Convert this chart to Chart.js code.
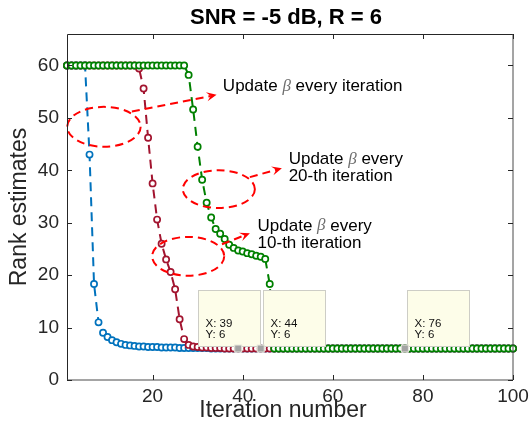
<!DOCTYPE html>
<html>
<head>
<meta charset="utf-8">
<script src="https://cdn.jsdelivr.net/npm/chart.js@4.4.1/dist/chart.umd.min.js"></script>
<style>
  html, body { margin: 0; padding: 0; background: #fff; }
  #wrap { width: 530px; height: 432px; }
</style>
</head>
<body>
<div id="wrap"><canvas id="rank-chart" width="530" height="432"></canvas></div>
<script>
// iteration index (x axis)
const iterations = [
    1, 2, 3, 4, 5, 6, 7, 8, 9, 10,
    11, 12, 13, 14, 15, 16, 17, 18, 19, 20,
    21, 22, 23, 24, 25, 26, 27, 28, 29, 30,
    31, 32, 33, 34, 35, 36, 37, 38, 39, 40,
    41, 42, 43, 44, 45, 46, 47, 48, 49, 50,
    51, 52, 53, 54, 55, 56, 57, 58, 59, 60,
    61, 62, 63, 64, 65, 66, 67, 68, 69, 70,
    71, 72, 73, 74, 75, 76, 77, 78, 79, 80,
    81, 82, 83, 84, 85, 86, 87, 88, 89, 90,
    91, 92, 93, 94, 95, 96, 97, 98, 99, 100
];

// beta updated every iteration (blue)
const rankEveryIter = [
    60, 60, 60, 60, 60, 43, 18.3, 11, 9, 8.2,
    7.6, 7.2, 6.9, 6.7, 6.6, 6.5, 6.4, 6.4, 6.3, 6.3,
    6.3, 6.2, 6.2, 6.2, 6.2, 6.1, 6.1, 6.1, 6.1, 6.1,
    6.1, 6.1, 6, 6, 6, 6, 6, 6, 6, 6,
    6, 6, 6, 6, 6, 6, 6, 6, 6, 6,
    6, 6, 6, 6, 6, 6, 6, 6, 6, 6,
    6, 6, 6, 6, 6, 6, 6, 6, 6, 6,
    6, 6, 6, 6, 6, 6, 6, 6, 6, 6,
    6, 6, 6, 6, 6, 6, 6, 6, 6, 6,
    6, 6, 6, 6, 6, 6, 6, 6, 6, 6
];

// beta updated every 10-th iteration (dark red)
const rankEvery10 = [
    60, 60, 60, 60, 60, 60, 60, 60, 60, 60,
    60, 60, 60, 60, 60, 60, 59.4, 55.6, 46.2, 37.5,
    30.6, 26, 23, 20.6, 17.3, 11.6, 7.8, 6.7, 6.4, 6.3,
    6.2, 6.2, 6.1, 6.1, 6.1, 6, 6, 6, 6, 6,
    6, 6, 6, 6, 6, 6, 6, 6, 6, 6,
    6, 6, 6, 6, 6, 6, 6, 6, 6, 6,
    6, 6, 6, 6, 6, 6, 6, 6, 6, 6,
    6, 6, 6, 6, 6, 6, 6, 6, 6, 6,
    6, 6, 6, 6, 6, 6, 6, 6, 6, 6,
    6, 6, 6, 6, 6, 6, 6, 6, 6, 6
];

// beta updated every 20-th iteration (green)
const rankEvery20 = [
    60, 60, 60, 60, 60, 60, 60, 60, 60, 60,
    60, 60, 60, 60, 60, 60, 60, 60, 60, 60,
    60, 60, 60, 60, 60, 60, 60, 58.2, 51.6, 44.5,
    38.2, 33.8, 31, 28.8, 27.9, 26.9, 25.8, 25.2, 24.7, 24.5,
    24.2, 24, 23.7, 23.5, 23.1, 18.3, 6, 6, 6, 6,
    6, 6, 6, 6, 6, 6, 6, 6, 6, 6,
    6, 6, 6, 6, 6, 6, 6, 6, 6, 6,
    6, 6, 6, 6, 6, 6, 6, 6, 6, 6,
    6, 6, 6, 6, 6, 6, 6, 6, 6, 6,
    6, 6, 6, 6, 6, 6, 6, 6, 6, 6
];

const xTicks = [20, 40, 60, 80, 100];
const yTicks = [0, 10, 20, 30, 40, 50, 60];

// data tips
const tipX = [39, 44, 76];
const tipY = [6, 6, 6];

const FONT = '"Liberation Sans", Arial, Helvetica, sans-serif';
const BLUE = '#0072BD', RED = '#A2142F', GREEN = '#008000';

function toPoints(values) {
    return iterations.map((it, i) => ({ x: it, y: values[i] }));
}

function series(label, values, color, order) {
    return {
        label: label,
        data: toPoints(values),
        borderColor: color,
        borderWidth: 2,
        borderDash: [9, 6],
        pointRadius: 3.1,
        pointBorderWidth: 1.7,
        pointBorderColor: color,
        pointBackgroundColor: '#fff',
        tension: 0,
        clip: false,
        order: order
    };
}

// annotations are given in data units and placed through the scales
const notes = [
    { ellipse: [9.2, 48.3, 8.15, 3.8], arrow: [15.4, 51.2, 34.2, 54.4],
      at: [35.6, 56.0], lines: [['Update ', 'β', ' every iteration']] },
    { ellipse: [34.7, 36.4, 8.0, 3.6], arrow: [41.6, 38.7, 48.7, 40.4],
      at: [50.2, 42.1], lines: [['Update ', 'β', ' every'], ['20-th iteration']] },
    { ellipse: [27.9, 23.6, 8.0, 3.7], arrow: [35.4, 25.9, 41.6, 28.0],
      at: [43.3, 29.4], lines: [['Update ', 'β', ' every'], ['10-th iteration']] }
];

function drawArrow(ctx, x0, y0, x1, y1) {
    const ang = Math.atan2(y1 - y0, x1 - x0);
    const c = Math.cos(ang), s = Math.sin(ang);
    const len = 10, half = 4.5;
    ctx.save();
    ctx.strokeStyle = '#ff0000';
    ctx.lineWidth = 2;
    ctx.setLineDash([8, 5]);
    ctx.beginPath();
    ctx.moveTo(x0, y0);
    ctx.lineTo(x1 - len * 0.6 * c, y1 - len * 0.6 * s);
    ctx.stroke();
    ctx.setLineDash([]);
    ctx.fillStyle = '#ff0000';
    ctx.beginPath();
    ctx.moveTo(x1, y1);
    ctx.lineTo(x1 - len * c + half * s, y1 - len * s - half * c);
    ctx.lineTo(x1 - len * 0.6 * c, y1 - len * 0.6 * s);
    ctx.lineTo(x1 - len * c - half * s, y1 - len * s + half * c);
    ctx.closePath();
    ctx.fill();
    ctx.restore();
}

function drawRichLine(ctx, x, y, parts) {
    let cx = x;
    parts.forEach(p => {
        if (p === 'β') {
            ctx.font = 'italic 17px "Liberation Serif", serif';
            ctx.fillStyle = '#6e6e6e';
        } else {
            ctx.font = '17px ' + FONT;
            ctx.fillStyle = '#000';
        }
        ctx.fillText(p, cx, y);
        cx += ctx.measureText(p).width;
    });
}

const decorations = {
    id: 'decorations',
    afterDatasetsDraw(chart) {
        const { ctx, chartArea: a } = chart;
        const xs = chart.scales.x, ys = chart.scales.y;
        const px = v => xs.getPixelForValue(v);
        const py = v => ys.getPixelForValue(v);

        // red dashed ellipses, arrows and notes
        notes.forEach(n => {
            const [ex, ey, erx, ery] = n.ellipse;
            ctx.save();
            ctx.strokeStyle = '#ff0000';
            ctx.lineWidth = 2;
            ctx.setLineDash([8, 5]);
            ctx.beginPath();
            ctx.ellipse(px(ex), py(ey), px(ex + erx) - px(ex), py(ey) - py(ey + ery), 0, 0, Math.PI * 2);
            ctx.stroke();
            ctx.restore();

            const [ax0, ay0, ax1, ay1] = n.arrow;
            drawArrow(ctx, px(ax0), py(ay0), px(ax1), py(ay1));

            ctx.save();
            ctx.textBaseline = 'middle';
            ctx.textAlign = 'left';
            n.lines.forEach((parts, i) => {
                drawRichLine(ctx, px(n.at[0]), py(n.at[1]) + i * 17.4, parts);
            });
            ctx.restore();
        });

        // data tips
        const shift = [-40, 2, 2];
        tipX.forEach((tx, i) => {
            const mx = px(tx), my = py(tipY[i]);
            const left = Math.round(mx + shift[i]) + 0.5;
            const top = Math.round(my - 58.5) + 0.5;
            ctx.save();
            ctx.fillStyle = '#fdfde9';
            ctx.strokeStyle = '#cdcdc6';
            ctx.lineWidth = 1;
            ctx.fillRect(left, top, 62, 56);
            ctx.strokeRect(left, top, 62, 56);
            ctx.fillStyle = '#a3a3a3';
            ctx.strokeStyle = '#e6e6da';
            ctx.fillRect(mx - 3.5, my - 3.5, 7, 7);
            ctx.strokeRect(mx - 3.5, my - 3.5, 7, 7);
            ctx.fillStyle = '#111';
            ctx.font = '11.5px ' + FONT;
            ctx.textBaseline = 'middle';
            ctx.fillText('X: ' + tx, left + 7, top + 33);
            ctx.fillText('Y: ' + tipY[i], left + 7, top + 44);
            ctx.restore();
        });

        // axes box with inward ticks
        ctx.save();
        ctx.lineWidth = 1;
        ctx.strokeStyle = '#262626';
        ctx.beginPath();
        ctx.moveTo(a.left + 0.5, a.bottom);
        ctx.lineTo(a.left + 0.5, a.top + 0.5);
        ctx.lineTo(a.right, a.top + 0.5);
        ctx.stroke();
        ctx.strokeStyle = '#4a4a4a';
        ctx.beginPath();
        ctx.moveTo(a.left, a.bottom);
        ctx.lineTo(a.right, a.bottom);
        ctx.lineTo(a.right, a.top);
        ctx.stroke();

        ctx.strokeStyle = '#262626';
        ctx.beginPath();
        xs.ticks.forEach(t => {
            const x = Math.round(px(t.value)) + 0.5;
            ctx.moveTo(x, a.bottom); ctx.lineTo(x, a.bottom - 5);
            ctx.moveTo(x, a.top); ctx.lineTo(x, a.top + 5);
        });
        ys.ticks.forEach(t => {
            const y = Math.round(py(t.value)) + 0.5;
            ctx.moveTo(a.left, y); ctx.lineTo(a.left + 5, y);
            ctx.moveTo(a.right, y); ctx.lineTo(a.right - 5, y);
        });
        ctx.stroke();

        // tick labels
        ctx.fillStyle = '#262626';
        ctx.font = '19px ' + FONT;
        ctx.textBaseline = 'middle';
        ctx.textAlign = 'center';
        xs.ticks.forEach(t => ctx.fillText(String(t.value), px(t.value), a.bottom + 17));
        ctx.textAlign = 'right';
        ys.ticks.forEach(t => ctx.fillText(String(t.value), a.left - 8, py(t.value)));

        // axis titles and chart title
        ctx.font = '23px ' + FONT;
        ctx.textAlign = 'center';
        ctx.fillText('Iteration number', (a.left + a.right) / 2 - 7, 411);
        ctx.save();
        ctx.translate(20, (a.top + a.bottom) / 2);
        ctx.rotate(-Math.PI / 2);
        ctx.fillText('Rank estimates', 0, 0);
        ctx.restore();

        ctx.fillStyle = '#000';
        ctx.font = 'bold 22px ' + FONT;
        ctx.fillText('SNR = -5 dB, R = 6', (a.left + a.right) / 2 - 4, 18);
        ctx.restore();
    }
};

new Chart(document.getElementById('rank-chart').getContext('2d'), {
    type: 'line',
    data: {
        datasets: [
            series('Update beta every 20-th iteration', rankEvery20, GREEN, 0),
            series('Update beta every 10-th iteration', rankEvery10, RED, 1),
            series('Update beta every iteration', rankEveryIter, BLUE, 2)
        ]
    },
    options: {
        responsive: false,
        animation: false,
        layout: { padding: { left: 0, right: 17, top: 34, bottom: 0 } },
        plugins: {
            legend: { display: false },
            title: { display: false },
            tooltip: { enabled: false }
        },
        scales: {
            x: {
                type: 'linear',
                min: 1,
                max: 100,
                grid: { display: false },
                border: { display: false },
                ticks: { display: false },
                afterBuildTicks: s => { s.ticks = xTicks.map(v => ({ value: v })); },
                afterFit: s => { s.height = 52; }
            },
            y: {
                type: 'linear',
                min: 0,
                max: 66,
                grid: { display: false },
                border: { display: false },
                ticks: { display: false },
                afterBuildTicks: s => { s.ticks = yTicks.map(v => ({ value: v })); },
                afterFit: s => { s.width = 67; }
            }
        }
    },
    plugins: [decorations]
});
</script>
</body>
</html>
